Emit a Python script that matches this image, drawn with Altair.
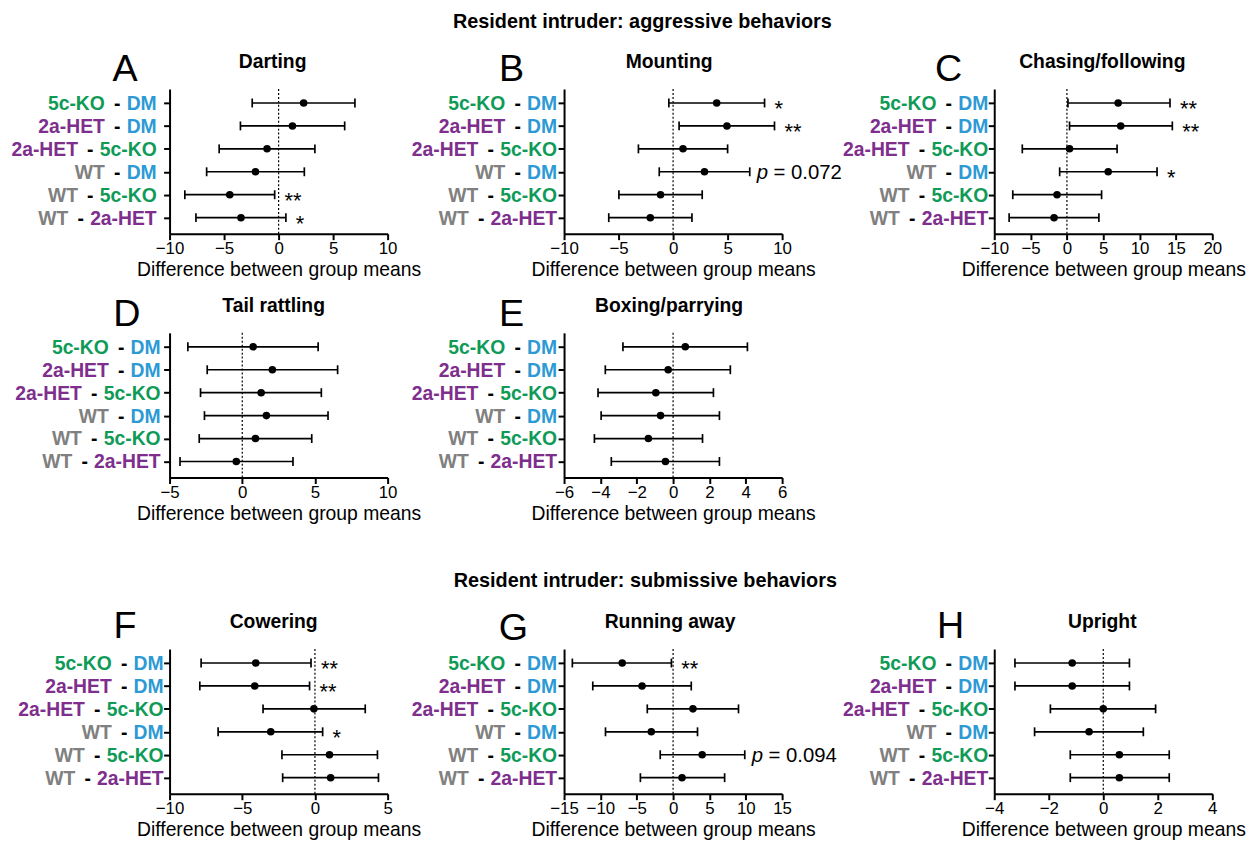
import altair as alt
import pandas as pd

FONT = "Liberation Sans"
BLACK = "#000000"

# ---------------- data ----------------
ROW_INDEX = [1, 2, 3, 4, 5, 6]
COMPARISON_LEFT = ["5c-KO", "2a-HET", "2a-HET", "WT", "WT", "WT"]
COMPARISON_RIGHT = ["DM", "DM", "5c-KO", "DM", "5c-KO", "2a-HET"]

GROUPS = ["5c-KO", "2a-HET", "WT", "DM"]
GROUP_COLORS = ["#0f9b57", "#7e2e8c", "#808080", "#2d9ad5"]

# A  Darting
DARTING_MEAN = [2.3, 1.27, -1.06, -2.12, -4.48, -3.45]
DARTING_LOW = [-2.42, -3.5, -5.45, -6.6, -8.6, -7.58]
DARTING_HIGH = [7.0, 6.06, 3.33, 2.36, -0.36, 0.67]
DARTING_SIG = ["", "", "", "", "**", "*"]
# B  Mounting
MOUNTING_MEAN = [4.0, 4.94, 0.91, 2.88, -1.15, -2.09]
MOUNTING_LOW = [-0.39, 0.55, -3.18, -1.27, -4.97, -5.9]
MOUNTING_HIGH = [8.39, 9.3, 5.0, 7.03, 2.67, 1.73]
MOUNTING_SIG = ["*", "**", "", "p = 0.072", "", ""]
# C  Chasing/following
CHASING_MEAN = [7.05, 7.4, 0.36, 5.68, -1.36, -1.77]
CHASING_LOW = [0.14, 0.36, -6.14, -1.0, -7.45, -7.95]
CHASING_HIGH = [14.18, 14.5, 6.9, 12.4, 4.77, 4.4]
CHASING_SIG = ["**", "**", "", "*", "", ""]
# D  Tail rattling
TAIL_MEAN = [0.75, 2.07, 1.3, 1.66, 0.91, -0.41]
TAIL_LOW = [-3.74, -2.41, -2.87, -2.6, -2.96, -4.28]
TAIL_HIGH = [5.22, 6.56, 5.44, 5.9, 4.78, 3.49]
TAIL_SIG = ["", "", "", "", "", ""]
# E  Boxing/parrying
BOXING_MEAN = [0.67, -0.27, -0.95, -0.69, -1.36, -0.42]
BOXING_LOW = [-2.76, -3.73, -4.13, -3.96, -4.33, -3.4]
BOXING_HIGH = [4.09, 3.15, 2.22, 2.55, 1.62, 2.55]
BOXING_SIG = ["", "", "", "", "", ""]
# F  Cowering
COWERING_MEAN = [-4.07, -4.14, -0.07, -3.04, 1.0, 1.08]
COWERING_LOW = [-7.83, -7.92, -3.57, -6.66, -2.27, -2.22]
COWERING_HIGH = [-0.27, -0.37, 3.46, 0.53, 4.3, 4.37]
COWERING_SIG = ["**", "**", "", "*", "", ""]
# G  Running away
RUNNING_MEAN = [-7.0, -4.27, 2.73, -3.0, 4.0, 1.23]
RUNNING_LOW = [-13.86, -11.05, -3.55, -9.3, -1.77, -4.5]
RUNNING_HIGH = [-0.23, 2.5, 9.0, 3.36, 9.86, 7.09]
RUNNING_SIG = ["**", "", "", "", "p = 0.094", ""]
# H  Upright
UPRIGHT_MEAN = [-1.14, -1.14, 0.0, -0.52, 0.59, 0.59]
UPRIGHT_LOW = [-3.24, -3.24, -1.94, -2.52, -1.21, -1.21]
UPRIGHT_HIGH = [0.96, 0.96, 1.92, 1.47, 2.42, 2.42]
UPRIGHT_SIG = ["", "", "", "", "", ""]

AXIS_TITLE = "Difference between group means"
SECTION_AGGRESSIVE = "Resident intruder: aggressive behaviors"
SECTION_SUBMISSIVE = "Resident intruder: submissive behaviors"

# ---------------- styling / layout ----------------
W, H = 220, 146
LFS = 19.5       # comparison label font size
BOLD_W = {"D": 722, "M": 833, "5": 556, "c": 556, "-": 333, "K": 722, "O": 778,
          "2": 556, "a": 556, "H": 722, "E": 667, "T": 611, "W": 944}


def text_width(s, fs):
    return sum(BOLD_W[ch] for ch in s) * fs / 1000.0


PANELS = [
    dict(letter="A", title="Darting", mean=DARTING_MEAN, low=DARTING_LOW, high=DARTING_HIGH,
         sig=DARTING_SIG, domain=(-10, 10), step=5, lab=-13, lx=-45, ly=-22, tx=104),
    dict(letter="B", title="Mounting", mean=MOUNTING_MEAN, low=MOUNTING_LOW, high=MOUNTING_HIGH,
         sig=MOUNTING_SIG, domain=(-10, 10), step=5, lab=-7, lx=-53, ly=-22, tx=106,
         section=(SECTION_AGGRESSIVE, 79, -69)),
    dict(letter="C", title="Chasing/following", mean=CHASING_MEAN, low=CHASING_LOW,
         high=CHASING_HIGH, sig=CHASING_SIG, domain=(-10, 20), step=5, lab=-6, lx=-46, ly=-22,
         tx=109),
    dict(letter="D", title="Tail rattling", mean=TAIL_MEAN, low=TAIL_LOW, high=TAIL_HIGH,
         sig=TAIL_SIG, domain=(-5, 10), step=5, lab=-9, lx=-43, ly=-20, tx=105),
    dict(letter="E", title="Boxing/parrying", mean=BOXING_MEAN, low=BOXING_LOW, high=BOXING_HIGH,
         sig=BOXING_SIG, domain=(-6, 6), step=2, lab=-7, lx=-53, ly=-20, tx=106),
    dict(letter="F", title="Cowering", mean=COWERING_MEAN, low=COWERING_LOW, high=COWERING_HIGH,
         sig=COWERING_SIG, domain=(-10, 5), step=5, lab=-6, lx=-45, ly=-25, tx=105),
    dict(letter="G", title="Running away", mean=RUNNING_MEAN, low=RUNNING_LOW, high=RUNNING_HIGH,
         sig=RUNNING_SIG, domain=(-15, 15), step=5, lab=-7, lx=-51, ly=-23, tx=107,
         section=(SECTION_SUBMISSIVE, 82, -70)),
    dict(letter="H", title="Upright", mean=UPRIGHT_MEAN, low=UPRIGHT_LOW, high=UPRIGHT_HIGH,
         sig=UPRIGHT_SIG, domain=(-4, 4), step=2, lab=-6, lx=-44, ly=-25, tx=109),
]

color_scale = alt.Scale(domain=GROUPS, range=GROUP_COLORS)
y_scale = alt.Scale(domain=[0.39, 6.7], reverse=True, nice=False, zero=False)
y_axis = alt.Axis(values=ROW_INDEX, labels=False, grid=False, domainColor=BLACK, domainWidth=2,
                  tickColor=BLACK, tickWidth=2, tickSize=6)


def one_text(t, x, y, fs, weight="normal", style="normal"):
    return alt.Chart(pd.DataFrame({"t": [t]})).mark_text(
        font=FONT, fontSize=fs, fontWeight=weight, fontStyle=style, color=BLACK,
        align="center", baseline="alphabetic"
    ).encode(text="t:N", x=alt.value(x), y=alt.value(y))


def panel(p):
    df = pd.DataFrame({"row": ROW_INDEX, "left": COMPARISON_LEFT, "right": COMPARISON_RIGHT,
                       "est": p["mean"], "lo": p["low"], "hi": p["high"], "note": p["sig"]})
    df["stars"] = [n if n.startswith("*") else "" for n in df["note"]]
    df["prest"] = [n[2:] if n.startswith("p ") else "" for n in df["note"]]

    d0, d1 = p["domain"]
    x_scale = alt.Scale(domain=[d0, d1], nice=False, zero=False)
    x_axis = alt.Axis(values=list(range(d0, d1 + 1, p["step"])), grid=False,
                      domainColor=BLACK, domainWidth=2, tickColor=BLACK, tickWidth=2,
                      tickSize=6, labelFont=FONT, labelFontSize=17, labelColor=BLACK,
                      labelPadding=1, labelFlush=False, labelOverlap=False,
                      titleFont=FONT, titleFontSize=19.5, titleFontWeight="normal",
                      titleColor=BLACK, titlePadding=4)

    def X(f):
        return alt.X(f"{f}:Q", scale=x_scale, axis=x_axis, title=AXIS_TITLE)

    Y = alt.Y("row:Q", scale=y_scale, axis=y_axis, title=None)
    base = alt.Chart(df)

    layers = []
    layers.append(alt.Chart(pd.DataFrame({"zero": [0]})).mark_rule(
        color=BLACK, strokeWidth=1.2, strokeDash=[2, 2]).encode(x=X("zero")))
    layers.append(base.mark_rule(color=BLACK, strokeWidth=1.7).encode(
        x=X("lo"), x2="hi:Q", y=Y))
    layers.append(base.mark_tick(orient="vertical", color=BLACK, size=9, thickness=1.7,
                                 opacity=1).encode(x=X("lo"), y=Y))
    layers.append(base.mark_tick(orient="vertical", color=BLACK, size=9, thickness=1.7,
                                 opacity=1).encode(x=X("hi"), y=Y))
    layers.append(base.mark_circle(color=BLACK, size=58, opacity=1).encode(x=X("est"), y=Y))

    layers.append(base.transform_filter("datum.stars != ''").mark_text(
        font=FONT, fontSize=22, color=BLACK, align="left", baseline="alphabetic",
        dx=10, dy=13).encode(x=X("hi"), y=Y, text="stars:N"))
    layers.append(base.transform_filter("datum.prest != ''").mark_text(
        font=FONT, fontSize=20.5, fontStyle="italic", color=BLACK, align="left",
        baseline="alphabetic", dx=7, dy=7).encode(x=X("hi"), y=Y, text=alt.value("p")))
    layers.append(base.transform_filter("datum.prest != ''").mark_text(
        font=FONT, fontSize=20.5, color=BLACK, align="left", baseline="alphabetic",
        dx=24, dy=7).encode(x=X("hi"), y=Y, text="prest:N"))

    off = p["lab"]
    layers.append(base.mark_text(font=FONT, fontSize=LFS, fontWeight="bold", align="right",
                                 baseline="alphabetic", dy=7).encode(
        x=alt.value(off), y=Y, text="right:N",
        color=alt.Color("right:N", scale=color_scale, legend=None)))
    for r in ["DM", "5c-KO", "2a-HET"]:
        dash_x = off - text_width(r, LFS) - 9.5
        sub = base.transform_filter(alt.datum.right == r)
        layers.append(sub.mark_text(font=FONT, fontSize=LFS, fontWeight="bold", align="center",
                                    baseline="alphabetic", dy=7, color=BLACK).encode(
            x=alt.value(dash_x), y=Y, text=alt.value("-")))
        layers.append(sub.mark_text(font=FONT, fontSize=LFS, fontWeight="bold", align="right",
                                    baseline="alphabetic", dy=7).encode(
            x=alt.value(dash_x - 12.5), y=Y, text="left:N",
            color=alt.Color("left:N", scale=color_scale, legend=None)))

    layers.append(one_text(p["title"], p["tx"], -28 + 7, 19.5, weight="bold"))
    layers.append(one_text(p["letter"], p["lx"], p["ly"] + 13.6, 38))
    if "section" in p:
        s, sx, sy = p["section"]
        layers.append(one_text(s, sx, sy + 7, 20, weight="bold"))

    return alt.layer(*layers).properties(width=W, height=H)


def spacer(w, h):
    return alt.Chart(pd.DataFrame({"a": [0]})).mark_point(opacity=0).encode(
        x=alt.value(0), y=alt.value(0)).properties(width=w, height=h)


P = [panel(p) for p in PANELS]
GAP1, GAP2 = 178, 214
cells = [
    P[0], spacer(GAP1, 1), P[1], spacer(GAP2, 1), P[2],
    spacer(1, 100), spacer(1, 100), spacer(1, 100), spacer(1, 100), spacer(1, 100),
    P[3], spacer(GAP1, 1), P[4], spacer(1, 1), spacer(1, 1),
    spacer(1, 173), spacer(1, 173), spacer(1, 173), spacer(1, 173), spacer(1, 173),
    P[5], spacer(GAP1, 1), P[6], spacer(GAP2, 1), P[7],
]

chart = alt.concat(*cells, columns=5, spacing=0, bounds="flush").resolve_scale(
    x="independent", y="independent"
).properties(padding={"left": 3, "top": 0, "right": 0, "bottom": 0},
             background="white").configure_view(strokeWidth=0)

chart.save("out.html", embed_options={"renderer": "svg", "actions": False})
